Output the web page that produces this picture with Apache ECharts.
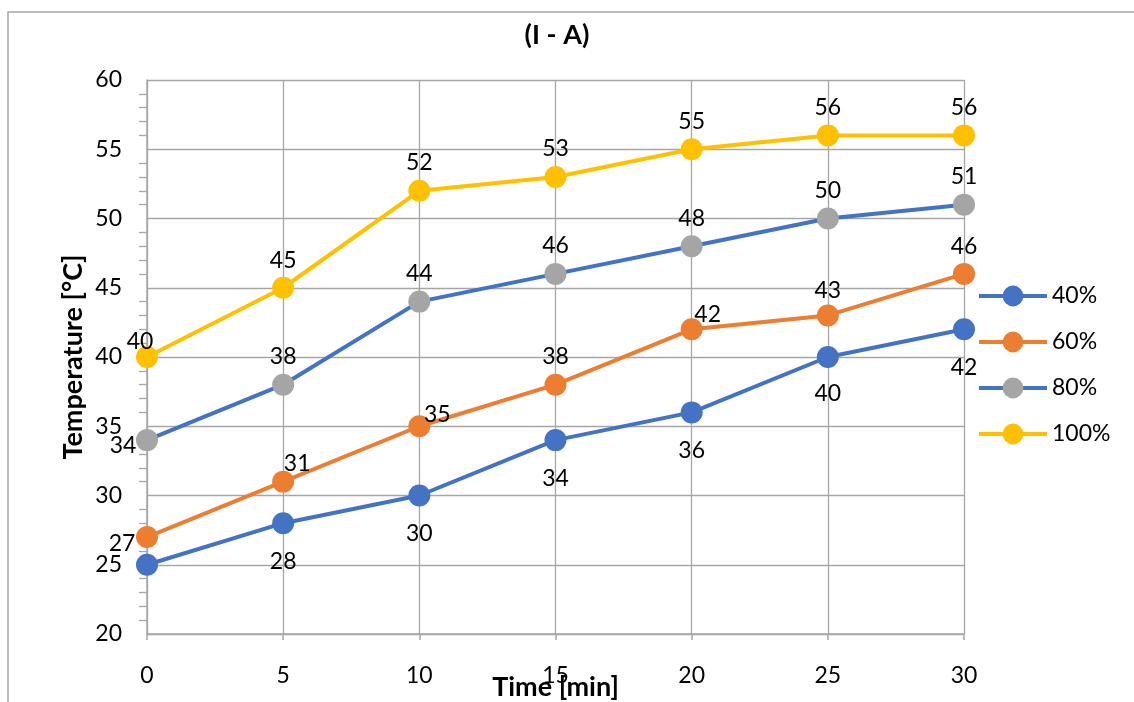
<!DOCTYPE html>
<html>
<head>
<meta charset="utf-8">
<script src="https://cdn.jsdelivr.net/npm/echarts@6/dist/echarts.min.js"></script>
<style>
html,body{margin:0;padding:0;background:#fff;}
#chart{width:1134px;height:702px;}
</style>
</head>
<body>
<div id="chart"></div>
<script>
const times = [0, 5, 10, 15, 20, 25, 30];
const seriesNames = ['40%', '60%', '80%', '100%'];
const s40 = [25, 28, 30, 34, 36, 40, 42];
const s60 = [27, 31, 35, 38, 42, 43, 46];
const s80 = [34, 38, 44, 46, 48, 50, 51];
const s100 = [40, 45, 52, 53, 55, 56, 56];
const yTicks = [20, 25, 30, 35, 40, 45, 50, 55, 60];
const xTicks = [0, 5, 10, 15, 20, 25, 30];

const FONT = 'Lato, "Open Sans", sans-serif';
const lineColors = ['#4472C4', '#ED7D31', '#4472C4', '#FFC000'];
const markColors = ['#4472C4', '#ED7D31', '#A5A5A5', '#FFC000'];
// label offsets relative to marker centre (styling only)
const labelOffsets = [
  [null, [0, 38], [0, 38], [0, 38], [0, 38], [0, 37], [0, 38]],
  [[-25, 7], [14, -18], [18, -12], [0, -28], [16, -15], [0, -25], [0, -27]],
  [[-24, 5], [0, -28], [0, -28], [0, -28], [0, -28], [0, -28], [0, -28]],
  [[-7, -15], [0, -27], [0, -28], [0, -28], [0, -28], [0, -28], [0, -28]]
];
const values = [s40, s60, s80, s100];

const series = values.map((vals, si) => ({
  name: seriesNames[si],
  type: 'line',
  symbol: 'circle',
  symbolSize: 22,
  lineStyle: { color: lineColors[si], width: 4 },
  itemStyle: { color: markColors[si] },
  color: markColors[si],
  z: 2 + si,
  data: vals.map((v, i) => {
    const off = labelOffsets[si][i];
    return {
      value: [times[i], v],
      label: off ? { show: true, position: 'inside', offset: off } : { show: false }
    };
  }),
  label: {
    show: true,
    color: '#000',
    fontFamily: FONT,
    fontSize: 23,
    formatter: p => String(p.value[1])
  },
  emphasis: { disabled: true },
  animation: false
}));

const chart = echarts.init(document.getElementById('chart'));
chart.setOption({
  backgroundColor: '#fff',
  animation: false,
  title: {
    text: '(I - A)',
    left: 552, top: 17, textAlign: 'center',
    textStyle: { fontFamily: FONT, fontWeight: 'bold', fontSize: 27, color: '#000' }
  },
  graphic: [{
    type: 'rect',
    shape: { x: 8, y: 12, width: 1300, height: 900 },
    style: { fill: null, stroke: '#A6A6A6', lineWidth: 1.5 },
    silent: true, z: -10
  }],
  legend: {
    orient: 'vertical',
    left: 972, top: 278,
    itemWidth: 68, itemHeight: 26, itemGap: 20,
    lineStyle: { width: 4 },
    textStyle: { fontFamily: FONT, fontSize: 23, color: '#000', lineHeight: 26 },
    data: seriesNames
  },
  grid: { left: 147, right: 170, top: 80, bottom: 68, outerBoundsMode: 'none', containLabel: false },
  xAxis: {
    type: 'value',
    min: 0, max: 30, interval: 5,
    name: 'Time [min]',
    nameLocation: 'middle', nameGap: 40, nameMoveOverlap: false,
    nameTextStyle: { fontFamily: FONT, fontWeight: 'bold', fontSize: 27, color: '#000' },
    axisLine: { show: true, lineStyle: { color: '#A6A6A6', width: 1.5 } },
    axisTick: { show: true, inside: false, length: 6, lineStyle: { color: '#A6A6A6', width: 1.5 } },
    axisLabel: { margin: 30, fontFamily: FONT, fontSize: 23, color: '#000',
      formatter: v => xTicks.includes(v) ? String(v) : '' },
    splitLine: { show: true, lineStyle: { color: '#A6A6A6', width: 1.3 } }
  },
  yAxis: {
    type: 'value',
    min: 20, max: 60, interval: 5,
    name: 'Temperature [°C]',
    nameLocation: 'middle', nameGap: 60, nameRotate: 90, nameMoveOverlap: false,
    nameTextStyle: { fontFamily: FONT, fontWeight: 'bold', fontSize: 27, color: '#000' },
    axisLine: { show: true, lineStyle: { color: '#A6A6A6', width: 1.5 } },
    axisTick: { show: false },
    minorTick: { show: true, splitNumber: 5, length: 8, lineStyle: { color: '#A6A6A6', width: 1.3 } },
    axisLabel: { margin: 25, fontFamily: FONT, fontSize: 23, color: '#000',
      formatter: v => yTicks.includes(v) ? String(v) : '' },
    splitLine: { show: true, lineStyle: { color: '#A6A6A6', width: 1.3 } }
  },
  series: series
});
</script>
</body>
</html>
